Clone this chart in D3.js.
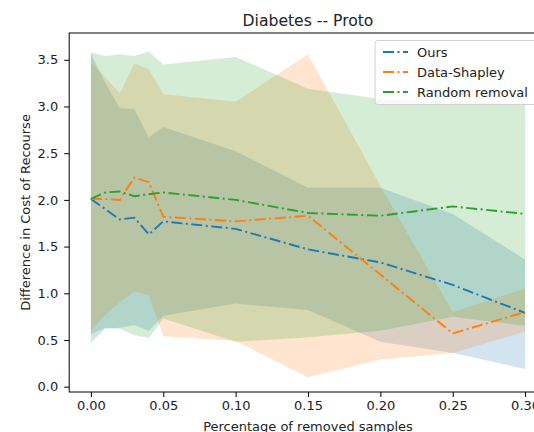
<!DOCTYPE html>
<html>
<head>
<meta charset="utf-8">
<script src="https://cdn.jsdelivr.net/npm/d3@7"></script>
<style>
  body { margin: 0; background: #fff; overflow: hidden; }
  text { font-family: "DejaVu Sans", sans-serif; fill: #222; }
</style>
</head>
<body>
<div id="chart"></div>
<script>

var width = 534,
		height = 432;

// percentage of removed samples
var removed = [0, 0.01, 0.02, 0.03, 0.04, 0.05, 0.10, 0.15, 0.20, 0.25, 0.30];

var oursMean  = [2.01, 1.90, 1.79, 1.81, 1.63, 1.77, 1.69, 1.47, 1.33, 1.09, 0.79];
var oursUpper = [3.57, 3.25, 2.98, 2.97, 2.67, 2.78, 2.52, 2.13, 2.13, 1.85, 1.36];
var oursLower = [0.47, 0.62, 0.63, 0.66, 0.60, 0.76, 0.89, 0.82, 0.48, 0.36, 0.19];

var shapleyMean  = [2.01, 2.01, 2.00, 2.24, 2.19, 1.82, 1.77, 1.83, 1.20, 0.57, 0.80];
var shapleyUpper = [3.48, 3.31, 3.14, 3.46, 3.40, 3.13, 3.05, 3.56, 2.15, 0.80, 1.05];
var shapleyLower = [0.60, 0.77, 0.90, 1.02, 0.98, 0.54, 0.49, 0.10, 0.29, 0.36, 0.59];

var randomMean  = [2.01, 2.08, 2.09, 2.04, 2.06, 2.08, 2.00, 1.86, 1.83, 1.93, 1.85];
var randomUpper = [3.58, 3.54, 3.56, 3.54, 3.59, 3.45, 3.53, 3.19, 3.08, 3.05, 3.03];
var randomLower = [0.56, 0.63, 0.62, 0.55, 0.52, 0.73, 0.48, 0.53, 0.60, 0.75, 0.65];

var seriesNames = ['Ours', 'Data-Shapley', 'Random removal'];
var seriesColors = ['#1f77b4', '#ff7f0e', '#2ca02c'];

var xTicks = [0, 0.05, 0.10, 0.15, 0.20, 0.25, 0.30];
var yTicks = [0, 0.5, 1.0, 1.5, 2.0, 2.5, 3.0, 3.5];

var series = [
	{ name: seriesNames[0], color: seriesColors[0], mean: oursMean, upper: oursUpper, lower: oursLower },
	{ name: seriesNames[1], color: seriesColors[1], mean: shapleyMean, upper: shapleyUpper, lower: shapleyLower },
	{ name: seriesNames[2], color: seriesColors[2], mean: randomMean, upper: randomUpper, lower: randomLower }
];

// axes box (right edge sits past the window, like the reference)
var plotL = 69.2, plotR = 546.8, plotT = 33, plotB = 392;
var dashes = '11,3.5,2,3.5';

var x = d3.scaleLinear()
		.domain([-0.015, 0.315])
		.range([plotL, plotR]);
var y = d3.scaleLinear()
		.domain([-0.057, 3.787])
		.range([plotB, plotT]);

var svg = d3.select("#chart").append("svg")
		.attr("width", width)
		.attr("height", height);

svg.append("rect")
		.attr("width", width)
		.attr("height", height)
		.attr("fill", "#fff");

var area = d3.area()
		.x(function(d) { return x(d.x); })
		.y0(function(d) { return y(d.lo); })
		.y1(function(d) { return y(d.hi); });

var line = d3.line()
		.x(function(d) { return x(d.x); })
		.y(function(d) { return y(d.v); });

var plot = svg.append("g");

// bands first
series.forEach(function(s) {
	var pts = removed.map(function(r, i) { return { x: r, lo: s.lower[i], hi: s.upper[i] }; });
	plot.append("path")
			.attr("d", area(pts))
			.attr("fill", s.color)
			.attr("fill-opacity", 0.2);
});

series.forEach(function(s) {
	var pts = removed.map(function(r, i) { return { x: r, v: s.mean[i] }; });
	plot.append("path")
			.attr("d", line(pts))
			.attr("fill", "none")
			.attr("stroke", s.color)
			.attr("stroke-width", 1.9)
			.attr("stroke-dasharray", dashes);
});

// axes
var xAxis = svg.append("g")
		.attr("transform", "translate(0," + plotB + ")")
		.call(d3.axisBottom(x)
			.tickValues(xTicks)
			.tickSize(5)
			.tickPadding(4)
			.tickFormat(d3.format(".2f")));
var yAxis = svg.append("g")
		.attr("transform", "translate(" + plotL + ",0)")
		.call(d3.axisLeft(y)
			.tickValues(yTicks)
			.tickSize(5)
			.tickPadding(6)
			.tickFormat(d3.format(".1f")));

[xAxis, yAxis].forEach(function(a) {
	a.select(".domain").remove();
	a.selectAll("line").attr("stroke", "#000").attr("stroke-width", 1);
	a.selectAll("text")
			.style("font-family", "DejaVu Sans")
			.style("font-size", "13px")
			.attr("fill", "#222");
});

svg.append("rect")
		.attr("x", plotL)
		.attr("y", plotT)
		.attr("width", plotR - plotL)
		.attr("height", plotB - plotT)
		.attr("fill", "none")
		.attr("stroke", "#000")
		.attr("stroke-width", 1);

svg.append("text")
		.attr("x", (plotL + plotR) / 2)
		.attr("y", 25.5)
		.attr("text-anchor", "middle")
		.style("font-size", "15.6px")
		.text("Diabetes -- Proto");

svg.append("text")
		.attr("x", (plotL + plotR) / 2)
		.attr("y", 431)
		.attr("text-anchor", "middle")
		.style("font-size", "13px")
		.text("Percentage of removed samples");

svg.append("text")
		.attr("transform", "translate(29.5," + ((plotT + plotB) / 2) + ") rotate(-90)")
		.attr("text-anchor", "middle")
		.style("font-size", "13px")
		.text("Difference in Cost of Recourse");

// legend
var legend = svg.append("g")
		.attr("transform", "translate(375,40.5)");

legend.append("rect")
		.attr("width", 200)
		.attr("height", 64)
		.attr("rx", 3)
		.attr("fill", "#fff")
		.attr("fill-opacity", 0.8)
		.attr("stroke", "#d0d0d0")
		.attr("stroke-width", 1);

var rows = legend.selectAll(".legend-row")
		.data(series)
		.enter().append("g")
		.attr("class", "legend-row")
		.attr("transform", function(d, i) { return "translate(0," + (11.5 + i * 20) + ")"; });

rows.append("line")
		.attr("x1", 8)
		.attr("x2", 33)
		.attr("stroke", function(d) { return d.color; })
		.attr("stroke-width", 1.9)
		.attr("stroke-dasharray", dashes);

rows.append("text")
		.attr("x", 42)
		.attr("dy", "0.35em")
		.style("font-size", "13px")
		.text(function(d) { return d.name; });

</script>
</body>
</html>
